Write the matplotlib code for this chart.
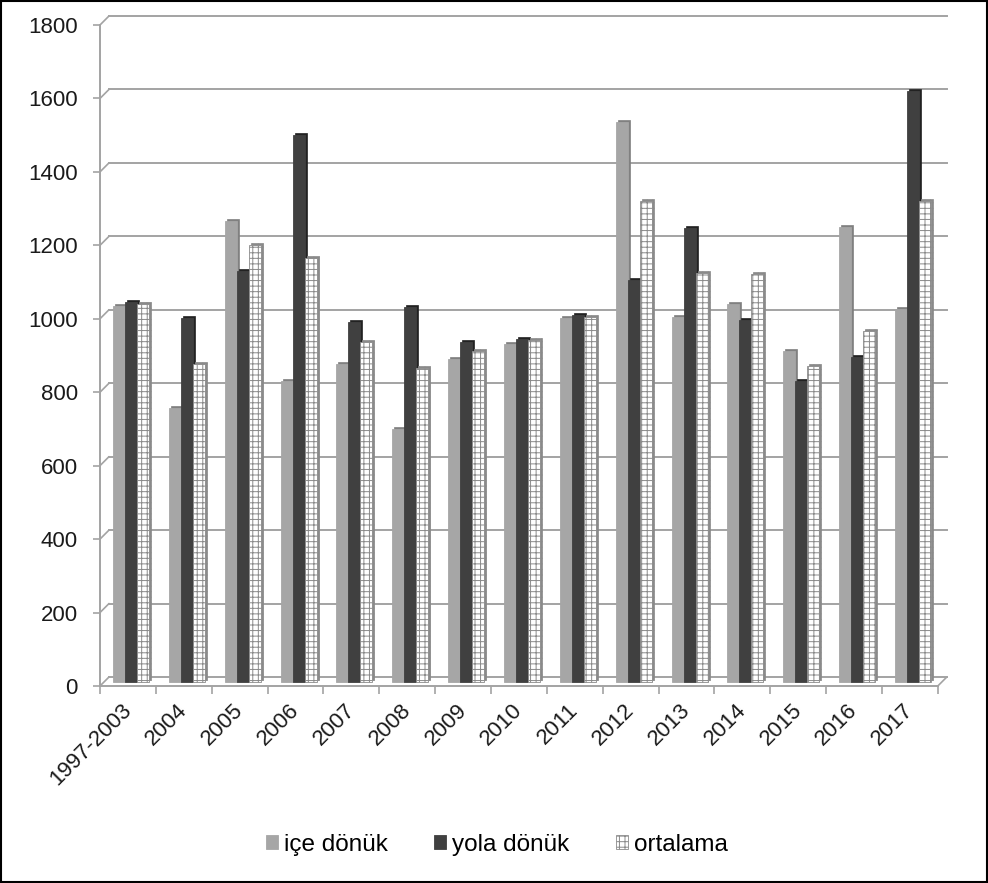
import matplotlib.pyplot as plt
from matplotlib.patches import Rectangle
from matplotlib.transforms import offset_copy, ScaledTranslation
import numpy as np

plt.rcParams['font.family'] = ['Liberation Sans', 'DejaVu Sans']

years = ["1997-2003", "2004", "2005", "2006", "2007", "2008", "2009", "2010",
         "2011", "2012", "2013", "2014", "2015", "2016", "2017"]
ice_donuk = [1025, 745, 1255, 820, 865, 690, 880, 920, 990, 1525, 995, 1030, 900, 1240, 1015]
yola_donuk = [1035, 990, 1120, 1490, 980, 1020, 925, 935, 1000, 1095, 1235, 985, 820, 885, 1610]
ortalama = [1030, 865, 1190, 1155, 925, 855, 900, 930, 995, 1310, 1115, 1110, 860, 955, 1310]
yticks = [0, 200, 400, 600, 800, 1000, 1200, 1400, 1600, 1800]

grid_col = "#a3a3a3"

fig = plt.figure(figsize=(9.88, 8.83), dpi=100)
ax = fig.add_axes([0.1012, 0.2231, 0.848, 0.7486])
ax.set_xlim(0, len(years))
ax.set_ylim(0, 1800)

# back wall: gridlines pushed back and up, joined to the front ticks
back = offset_copy(ax.transData, fig=fig, x=9, y=9, units='dots')
for v in yticks:
    ax.plot([0, len(years)], [v, v], transform=back, color=grid_col, lw=1.4,
            clip_on=False, zorder=0.5)
    ax.annotate('', xy=(0, v), xytext=(9, 9), textcoords='offset pixels',
                arrowprops=dict(arrowstyle='-', color=grid_col, lw=1.2,
                                shrinkA=0, shrinkB=0), annotation_clip=False)
ax.annotate('', xy=(len(years), 0), xytext=(9, 9), textcoords='offset pixels',
            arrowprops=dict(arrowstyle='-', color=grid_col, lw=1.2,
                            shrinkA=0, shrinkB=0), annotation_clip=False)

# columns: darker copy offset behind gives the side/top faces
x = np.arange(len(years))
w = 0.215
front = offset_copy(ax.transData, fig=fig, x=3, y=4, units='dots')
side = offset_copy(ax.transData, fig=fig, x=5, y=6, units='dots')
series = [
    (ice_donuk, 0.18, "#a6a6a6", "#808080", None, "içe dönük"),
    (yola_donuk, 0.18 + w, "#404040", "#222222", None, "yola dönük"),
    (ortalama, 0.18 + 2 * w, "white", "#8a8a8a", "+++", "ortalama"),
]
plt.rcParams['hatch.linewidth'] = 0.7
handles = []
for i, (vals, off, col, dark, hatch, lab) in enumerate(series):
    z = 2 + i
    ax.bar(x + off, vals, width=w, align='edge', color=dark, edgecolor=dark,
           linewidth=0.5, hatch=hatch, transform=side, zorder=z, clip_on=False)
    b = ax.bar(x + off, vals, width=w, align='edge', color=col,
               edgecolor="#8a8a8a" if hatch else col, linewidth=0.6,
               hatch=hatch, transform=front, zorder=z + 0.1, clip_on=False,
               label=lab)
    handles.append(b)

for s in ['top', 'right']:
    ax.spines[s].set_visible(False)
for s in ['left', 'bottom']:
    ax.spines[s].set_color(grid_col)
    ax.spines[s].set_linewidth(1.4)

ax.set_yticks(yticks)
ax.tick_params(axis='y', length=5, width=1.2, color=grid_col, pad=11,
               labelsize=16, labelcolor="#1a1a1a")
ax.set_xticks(np.arange(len(years) + 1), minor=True)
ax.set_xticks(x + 0.5)
ax.set_xticklabels(years, rotation=45, ha='right', va='top',
                   rotation_mode='anchor', fontsize=16, color="#1a1a1a")
ax.tick_params(axis='x', which='major', length=0, pad=10)
ax.tick_params(axis='x', which='minor', length=6, width=1.2, color=grid_col)
# nudge the slanted year labels a little to the left
shift = ScaledTranslation(-7 / 100, 0, fig.dpi_scale_trans)
for lbl in ax.get_xticklabels():
    lbl.set_transform(lbl.get_transform() + shift)

fig.legend(handles=handles, loc='center', bbox_to_anchor=(0.503, 0.043),
           ncol=3, frameon=False, fontsize=17.5, handlelength=0.5,
           handleheight=0.5, handletextpad=0.25, columnspacing=1.9)

fig.patches.append(Rectangle((0.001, 0.001), 0.998, 0.998, transform=fig.transFigure,
                             fill=False, edgecolor='black', lw=1.5))

fig.savefig("out.png", dpi=100)
